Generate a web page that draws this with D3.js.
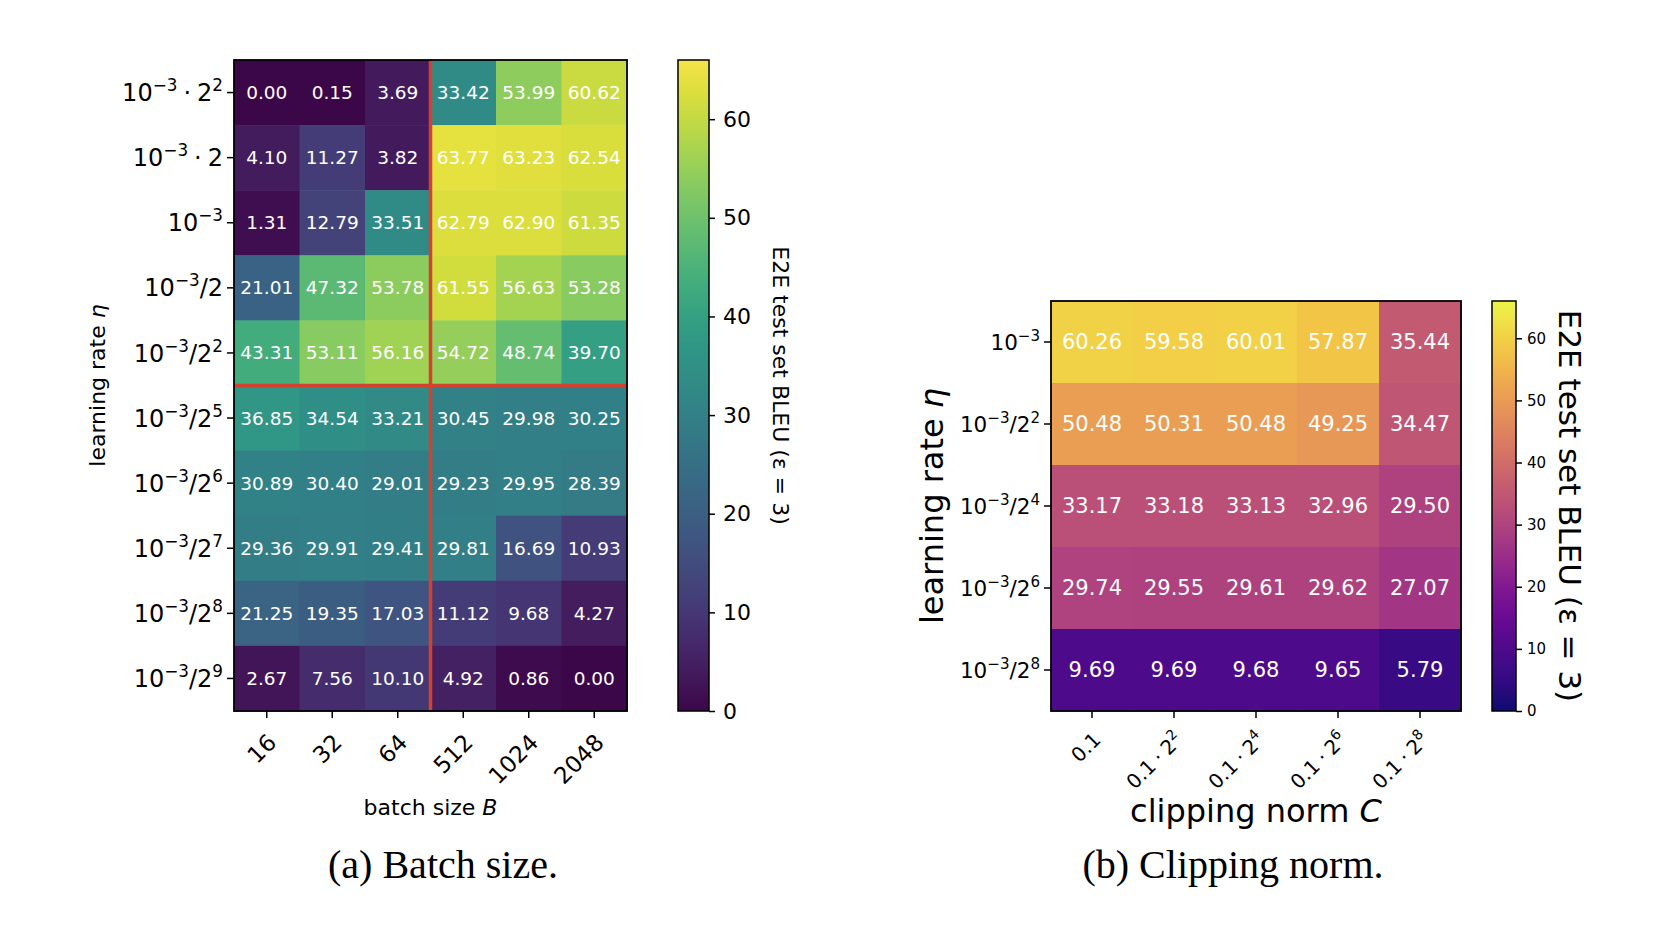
<!DOCTYPE html>
<html>
<head>
<meta charset="utf-8">
<script src="https://cdn.jsdelivr.net/npm/d3@7"></script>
<style>
  body { margin: 0; background: #fff; }
  svg text { font-family: "DejaVu Sans", sans-serif; }
  svg text.caption { font-family: "Liberation Serif", "DejaVu Serif", serif; }
</style>
</head>
<body>
<svg id="chart" width="1660" height="932"></svg>
<script>
// ---- data: (a) batch size ----
const batchSizes = ["16", "32", "64", "512", "1024", "2048"];
const lrBatch = ["10^{−3}·2^{2}", "10^{−3}·2", "10^{−3}", "10^{−3}/2", "10^{−3}/2^{2}",
                 "10^{−3}/2^{5}", "10^{−3}/2^{6}", "10^{−3}/2^{7}", "10^{−3}/2^{8}", "10^{−3}/2^{9}"];
const bleuBatch = [
  [0.00, 0.15, 3.69, 33.42, 53.99, 60.62],
  [4.10, 11.27, 3.82, 63.77, 63.23, 62.54],
  [1.31, 12.79, 33.51, 62.79, 62.90, 61.35],
  [21.01, 47.32, 53.78, 61.55, 56.63, 53.28],
  [43.31, 53.11, 56.16, 54.72, 48.74, 39.70],
  [36.85, 34.54, 33.21, 30.45, 29.98, 30.25],
  [30.89, 30.40, 29.01, 29.23, 29.95, 28.39],
  [29.36, 29.91, 29.41, 29.81, 16.69, 10.93],
  [21.25, 19.35, 17.03, 11.12, 9.68, 4.27],
  [2.67, 7.56, 10.10, 4.92, 0.86, 0.00]
];

// ---- data: (b) clipping norm ----
const clipNorms = ["0.1", "0.1·2^{2}", "0.1·2^{4}", "0.1·2^{6}", "0.1·2^{8}"];
const lrClip = ["10^{−3}", "10^{−3}/2^{2}", "10^{−3}/2^{4}", "10^{−3}/2^{6}", "10^{−3}/2^{8}"];
const bleuClip = [
  [60.26, 59.58, 60.01, 57.87, 35.44],
  [50.48, 50.31, 50.48, 49.25, 34.47],
  [33.17, 33.18, 33.13, 32.96, 29.50],
  [29.74, 29.55, 29.61, 29.62, 27.07],
  [9.69, 9.69, 9.68, 9.65, 5.79]
];

const colorTicks = [0, 10, 20, 30, 40, 50, 60];
const colorMax = 66;

const svg = d3.select("#chart");

// the scanned figure looks a little washed out: pull colours slightly toward grey
function muted(interp) {
  return t => {
    const c = d3.rgb(interp(t));
    const l = 0.299 * c.r + 0.587 * c.g + 0.114 * c.b;
    const k = 0.2;
    return d3.rgb(c.r * (1 - k) + l * k, c.g * (1 - k) + l * k, c.b * (1 - k) + l * k).formatHex();
  };
}

// write "a^{b}" style labels as tspans
function mathText(sel, label, size) {
  const parts = label.replace(/·/g, "\u2005·\u2005").split(/\^\{([^}]*)\}/);
  let up = false;
  parts.forEach((p, i) => {
    if (p === "") { return; }
    const sup = i % 2 === 1;
    const t = sel.append("tspan").text(p);
    if (sup) {
      t.attr("font-size", size * 0.7).attr("dy", up ? 0 : -size * 0.42);
      up = true;
    } else {
      t.attr("font-size", size);
      if (up) { t.attr("dy", size * 0.42); up = false; }
    }
  });
}

function heatmap(opt) {
  const g = svg.append("g");
  const x = d3.scaleBand().domain(opt.cols).range([opt.x0, opt.x1]);
  const y = d3.scaleBand().domain(opt.rows).range([opt.y0, opt.y1]);
  const interp = muted(opt.interp);
  const color = d3.scaleSequential(interp).domain([0, colorMax]);

  const cells = [];
  opt.values.forEach((row, i) => row.forEach((v, j) => cells.push({r: opt.rows[i], c: opt.cols[j], v: v})));

  g.selectAll("rect.cell").data(cells).join("rect")
    .attr("x", d => x(d.c)).attr("y", d => y(d.r))
    .attr("width", x.bandwidth() + 0.5).attr("height", y.bandwidth() + 0.5)
    .attr("fill", d => color(d.v));

  g.selectAll("text.val").data(cells).join("text")
    .attr("x", d => x(d.c) + x.bandwidth() / 2)
    .attr("y", d => y(d.r) + y.bandwidth() / 2)
    .attr("text-anchor", "middle").attr("dominant-baseline", "central")
    .attr("fill", "#fff").attr("font-size", opt.valSize)
    .text(d => d.v.toFixed(2));

  if (opt.redCol) {
    const xr = x(opt.redCol);
    const yr = y(opt.redRow);
    g.append("line").attr("x1", xr).attr("x2", xr).attr("y1", opt.y0).attr("y2", opt.y1)
      .attr("stroke", "#d2422f").attr("stroke-width", 3.5);
    g.append("line").attr("x1", opt.x0).attr("x2", opt.x1).attr("y1", yr).attr("y2", yr)
      .attr("stroke", "#d2422f").attr("stroke-width", 3.5);
  }

  g.append("rect").attr("x", opt.x0).attr("y", opt.y0)
    .attr("width", opt.x1 - opt.x0).attr("height", opt.y1 - opt.y0)
    .attr("fill", "none").attr("stroke", "#000").attr("stroke-width", 1.8);

  // y ticks
  opt.rows.forEach(r => {
    const yy = y(r) + y.bandwidth() / 2;
    g.append("line").attr("x1", opt.x0 - 7).attr("x2", opt.x0).attr("y1", yy).attr("y2", yy)
      .attr("stroke", "#000").attr("stroke-width", 1.5);
    const t = g.append("text").attr("x", opt.x0 - 11).attr("y", yy + opt.yTickSize * 0.36)
      .attr("text-anchor", "end").attr("fill", "#000").attr("font-size", opt.yTickSize);
    mathText(t, r, opt.yTickSize);
  });

  // x ticks, rotated 45 degrees
  opt.cols.forEach(c => {
    const xx = x(c) + x.bandwidth() / 2;
    g.append("line").attr("x1", xx).attr("x2", xx).attr("y1", opt.y1).attr("y2", opt.y1 + 7)
      .attr("stroke", "#000").attr("stroke-width", 1.5);
    const ax = xx + opt.xTickDx, ay = opt.y1 + opt.xTickDy;
    const t = g.append("text").attr("x", ax).attr("y", ay)
      .attr("text-anchor", "end").attr("fill", "#000").attr("font-size", opt.xTickSize)
      .attr("transform", `rotate(-45,${ax},${ay})`);
    mathText(t, c, opt.xTickSize);
  });

  // axis labels
  const xl = g.append("text").attr("x", (opt.x0 + opt.x1) / 2).attr("y", opt.xLabelY)
    .attr("text-anchor", "middle").attr("font-size", opt.labelSize);
  xl.append("tspan").text(opt.xLabel[0]);
  xl.append("tspan").attr("font-style", "italic").text(opt.xLabel[1]);

  const ly = (opt.y0 + opt.y1) / 2;
  const yl = g.append("text").attr("transform", `translate(${opt.yLabelX},${ly}) rotate(-90)`)
    .attr("text-anchor", "middle").attr("dominant-baseline", "central").attr("font-size", opt.labelSize);
  yl.append("tspan").text(opt.yLabel[0]);
  yl.append("tspan").attr("font-style", "italic").text(opt.yLabel[1]);

  // colorbar
  const cb = opt.cbar;
  const gid = "grad" + opt.id;
  const grad = svg.append("defs").append("linearGradient").attr("id", gid)
    .attr("x1", 0).attr("y1", 1).attr("x2", 0).attr("y2", 0);
  d3.range(0, 1.0001, 0.05).forEach(s => grad.append("stop")
    .attr("offset", s).attr("stop-color", interp(s)));
  g.append("rect").attr("x", cb.x0).attr("y", opt.y0).attr("width", cb.x1 - cb.x0)
    .attr("height", opt.y1 - opt.y0).attr("fill", `url(#${gid})`)
    .attr("stroke", "#000").attr("stroke-width", 1.5);

  const cy = d3.scaleLinear().domain([0, colorMax]).range([opt.y1, opt.y0]);
  const axis = g.append("g").attr("transform", `translate(${cb.x1},0)`)
    .call(d3.axisRight(cy).tickValues(colorTicks).tickSize(6).tickPadding(cb.pad));
  axis.select(".domain").remove();
  axis.selectAll("line").attr("stroke-width", 1.5);
  axis.selectAll("text").attr("font-size", cb.tickSize).attr("font-family", "DejaVu Sans");

  g.append("text").attr("transform", `translate(${cb.labelX},${ly}) rotate(90)`)
    .attr("text-anchor", "middle").attr("dominant-baseline", "central")
    .attr("font-size", cb.labelSize).text("E2E test set BLEU (ε = 3)");

  // caption
  svg.append("text").attr("class", "caption").attr("x", opt.capX).attr("y", 878)
    .attr("text-anchor", "middle").attr("font-size", 40).text(opt.caption);
}

heatmap({
  id: "a", cols: batchSizes, rows: lrBatch, values: bleuBatch, interp: d3.interpolateViridis,
  x0: 234, x1: 627, y0: 60, y1: 711,
  valSize: 18.5, yTickSize: 24, xTickSize: 23, xTickDx: 11, xTickDy: 33,
  redCol: "512", redRow: "10^{−3}/2^{5}",
  xLabel: ["batch size ", "B"], yLabel: ["learning rate ", "η"],
  labelSize: 22, xLabelY: 815, yLabelX: 97,
  cbar: {x0: 678, x1: 709, tickSize: 22, pad: 8, labelX: 780, labelSize: 22},
  caption: "(a) Batch size.", capX: 443
});

heatmap({
  id: "b", cols: clipNorms, rows: lrClip, values: bleuClip, interp: d3.interpolatePlasma,
  x0: 1051, x1: 1461, y0: 301, y1: 711,
  valSize: 21, yTickSize: 21.5, xTickSize: 20, xTickDx: 10, xTickDy: 30,
  xLabel: ["clipping norm ", "C"], yLabel: ["learning rate ", "η"],
  labelSize: 32, xLabelY: 822, yLabelX: 932,
  cbar: {x0: 1492, x1: 1516, tickSize: 15, pad: 5, labelX: 1570, labelSize: 31},
  caption: "(b) Clipping norm.", capX: 1233
});
</script>
</body>
</html>
